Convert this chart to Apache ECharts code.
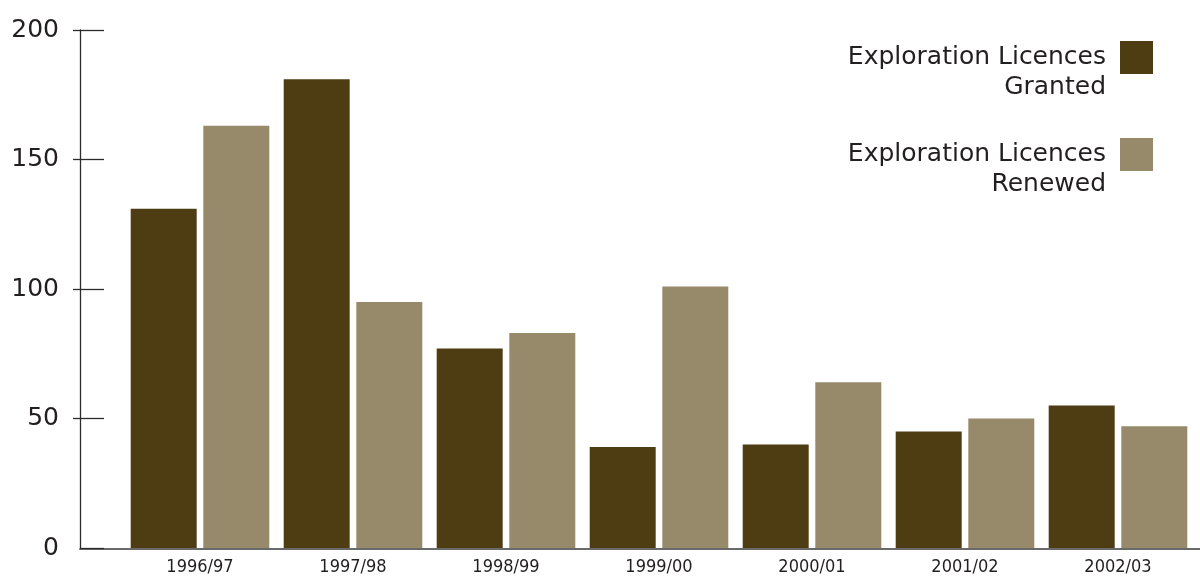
<!DOCTYPE html>
<html>
<head>
<meta charset="utf-8">
<script src="https://cdn.jsdelivr.net/npm/echarts@6/dist/echarts.min.js"></script>
<style>
  html, body { margin: 0; padding: 0; background: #ffffff; }
  #chart { width: 1200px; height: 576px; }
</style>
</head>
<body>
<div id="chart"></div>
<script>
// Financial years shown along the x axis
const years = ['1996/97', '1997/98', '1998/99', '1999/00', '2000/01', '2001/02', '2002/03'];

// Number of exploration licences per year
const granted = [131, 181, 77, 39, 40, 45, 55];
const renewed = [163, 95, 83, 101, 64, 50, 47];

// Value axis ticks
const yTicks = [0, 50, 100, 150, 200];

const seriesNames = ['Exploration Licences Granted', 'Exploration Licences Renewed'];
const colors = ['#4e3d12', '#978a6a'];
const textColor = '#231f20';

const chart = echarts.init(document.getElementById('chart'), null, { renderer: 'canvas' });

const yMin = yTicks[0];
const yMax = yTicks[yTicks.length - 1];
const yStep = yTicks[1] - yTicks[0];

const option = {
  backgroundColor: '#ffffff',
  animation: false,
  grid: [
    // plotting area for the bars
    { left: 123.5, right: 5.5, top: 30, bottom: 27 },
    // full-width frame carrying the baseline
    { left: 80, right: 0, top: 30, bottom: 27 }
  ],
  legend: {
    orient: 'vertical',
    right: 42,
    top: 7.5,
    align: 'right',
    icon: 'rect',
    itemWidth: 33,
    itemHeight: 33,
    itemGap: 7,
    data: seriesNames,
    // a leading blank line keeps the first text line level with the swatch
    formatter: name => '\n' + name.replace('Licences ', 'Licences\n'),
    textStyle: {
      fontFamily: 'DejaVu Sans',
      fontSize: 25,
      lineHeight: 30,
      color: textColor,
      align: 'right',
      padding: [0, 9, 0, 0]
    }
  },
  xAxis: [
    {
      type: 'category',
      gridIndex: 0,
      data: years,
      axisLine: { show: false },
      axisTick: { show: false },
      axisLabel: {
        color: textColor,
        fontFamily: "'Liberation Sans Narrow', 'DejaVu Sans Condensed', sans-serif",
        fontSize: 18,
        margin: 10
      }
    },
    {
      type: 'value',
      gridIndex: 1,
      min: 0,
      max: 1,
      axisLine: { show: true, lineStyle: { color: '#6a6a6a', width: 2 } },
      axisTick: { show: false },
      axisLabel: { show: false },
      splitLine: { show: false }
    }
  ],
  yAxis: [
    {
      type: 'value',
      gridIndex: 0,
      min: yMin,
      max: yMax,
      interval: yStep,
      offset: 43.5,
      axisLine: { show: true, lineStyle: { color: '#2b2b2b', width: 1.3 } },
      axisTick: { show: true, inside: true, length: 24, lineStyle: { color: '#2b2b2b', width: 1.3 } },
      splitLine: { show: false },
      axisLabel: {
        color: textColor,
        fontFamily: 'DejaVu Sans',
        fontSize: 25,
        margin: 21,
        padding: [0, 0, 6, 0]
      }
    },
    {
      // short outward tick stubs on the same axis line (none at zero)
      type: 'value',
      gridIndex: 0,
      min: yMin,
      max: yMax,
      interval: yStep,
      position: 'left',
      offset: 43.5,
      axisLine: { show: false },
      axisTick: {
        show: true,
        inside: false,
        length: 7,
        customValues: yTicks.slice(1),
        lineStyle: { color: '#2b2b2b', width: 1.3 }
      },
      axisLabel: { show: false },
      splitLine: { show: false }
    },
    {
      type: 'value',
      gridIndex: 1,
      show: false,
      min: 0,
      max: 1
    }
  ],
  series: [
    {
      name: seriesNames[0],
      type: 'bar',
      xAxisIndex: 0,
      yAxisIndex: 0,
      data: granted,
      barWidth: 66,
      barGap: '10%',
      itemStyle: { color: colors[0] }
    },
    {
      name: seriesNames[1],
      type: 'bar',
      xAxisIndex: 0,
      yAxisIndex: 0,
      data: renewed,
      barWidth: 66,
      barGap: '10%',
      itemStyle: { color: colors[1] }
    }
  ]
};

chart.setOption(option);
</script>
</body>
</html>
